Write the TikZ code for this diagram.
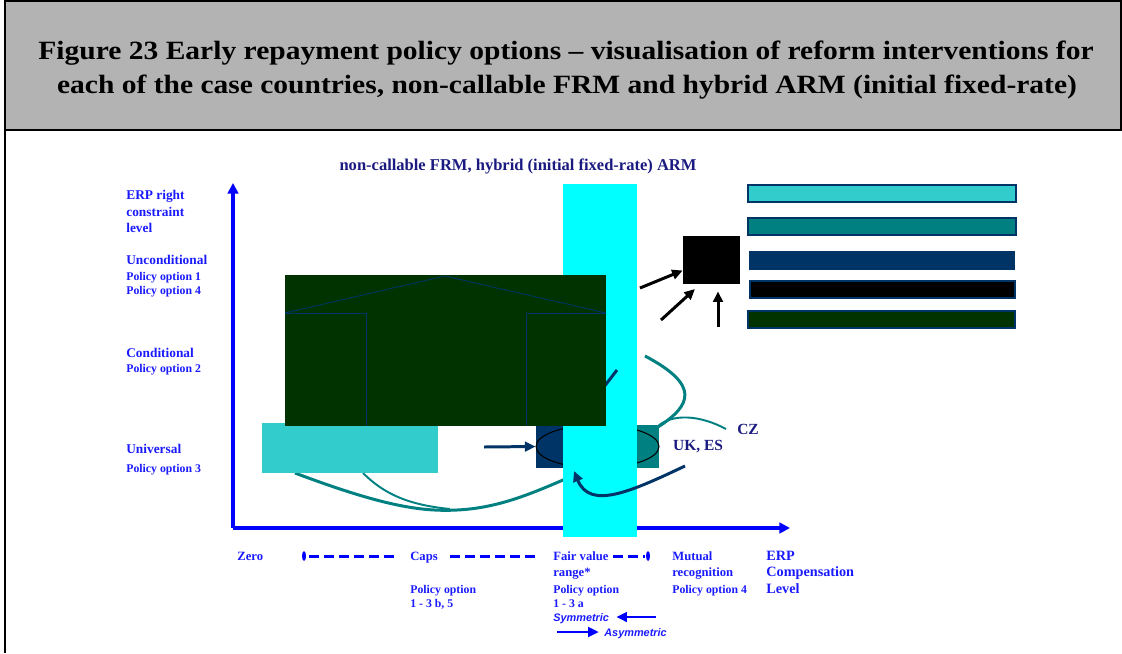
\documentclass[tikz,border=0pt]{standalone}
\usepackage{fontspec}
\setmainfont{Liberation Serif}
\newfontfamily\arialfont{Liberation Sans}
\usepackage{tikz}
\usetikzlibrary{arrows.meta,shapes.geometric}

\definecolor{titlegrey}{HTML}{B3B3B3}
\definecolor{axisblue}{HTML}{0000FF}
\definecolor{labelblue}{HTML}{1A1AFF}
\definecolor{navytext}{HTML}{1A1A80}
\definecolor{bandcyan}{HTML}{00FFFF}
\definecolor{lightteal}{HTML}{33CCCC}
\definecolor{tealline}{HTML}{008080}
\definecolor{navyfill}{HTML}{003366}
\definecolor{forestfill}{HTML}{003300}

\begin{document}
\begin{tikzpicture}[x=0.02cm,y=-0.02cm,
  lbl/.style={anchor=base west,inner sep=0pt,text=labelblue,font=\bfseries\fontsize{7.6}{9}\selectfont},
  sublbl/.style={lbl,font=\bfseries\fontsize{6.7}{8}\selectfont},
  botlbl/.style={lbl,font=\bfseries\fontsize{7.2}{8}\selectfont},
  slant/.style={lbl,font=\arialfont\bfseries\itshape\fontsize{6.2}{7}\selectfont},
  country/.style={inner sep=0pt,text=navytext,font=\bfseries\fontsize{8.8}{10}\selectfont},
  heading/.style={anchor=base,font=\bfseries\fontsize{15}{18}\selectfont},
  axis/.style={draw=axisblue,line width=2.3pt,-{Triangle[length=6pt,width=6pt]}},
  ptr/.style={line width=1.7pt,-{Triangle[length=6pt,width=5.5pt]}},
  dashline/.style={axisblue,line width=1.7pt,dash pattern=on 5.7pt off 2.8pt},
  legendbar/.style={draw=navyfill,line width=0.6pt}]

\useasboundingbox (0,0) rectangle (1122,653);

% heading
\draw[fill=titlegrey,line width=1.7pt] (5,1) rectangle (1121,130);
\draw[line width=1.7pt] (5,130) -- (5,653);
\node[heading] (title1) at (566,59)
  {\scalebox{1.12}[1]{Figure 23 Early repayment policy options -- visualisation of reform interventions for}};
\node[heading] (title2) at (567,93)
  {\scalebox{1.12}[1]{each of the case countries, non-callable FRM and hybrid ARM (initial fixed-rate)}};

\node[anchor=base,inner sep=0pt,text=navytext,font=\bfseries\fontsize{9.4}{11}\selectfont] (charttitle) at (518,170)
  {non-callable FRM, hybrid (initial fixed-rate) ARM};

% axes
\coordinate (origin) at (233,528);
\coordinate (ytip) at (233,183);
\coordinate (xtip) at (790,528);
\draw[axis] (origin) -- (ytip);
\draw[axis] (origin) -- (xtip);

% teal curves, left
\draw[tealline,line width=1.7pt] (295,473) .. controls (380,505) and (420,512) .. (457,510)
  .. controls (500,508) and (535,492) .. (570,477);
\draw[tealline,line width=1.1pt] (363,473) .. controls (385,495) and (410,505) .. (450,509);

\node[fill=lightteal,inner sep=0pt,minimum width=3.52cm,minimum height=1cm] (universal) at (350,448) {};

% ellipse
\fill[navyfill] (536,425) rectangle (598,468);
\fill[tealline] (598,425) rectangle (659,468);
\node[ellipse,draw=black,line width=0.6pt,inner sep=0pt,minimum width=2.46cm,minimum height=0.86cm] (oval) at (597.5,446.5) {};
\coordinate (navystart) at (484,447);
\draw[navyfill,ptr] (navystart) -- (oval.west);

% teal curves, right
\draw[tealline,line width=1.7pt] (645,356) .. controls (700,385) and (692,405) .. (658,427);
\draw[tealline,line width=1.1pt] (657,427) .. controls (672,413) and (700,415) .. (726,429);

% fair value band
\fill[bandcyan] (563,184) rectangle (637,537);
\draw[navyfill,line width=1.7pt] (617,370) -- (600,392);

% conditional block
\node[fill=forestfill,inner sep=0pt,minimum width=6.42cm,minimum height=3.02cm] (conditional) at (445.5,350.5) {};
\draw[navyfill,line width=0.5pt] (285,313) -- (445,276) -- (606,313);
\draw[navyfill,line width=0.5pt] (285,313) -- (366,313) -- (366,426);
\draw[navyfill,line width=0.5pt] (606,313) -- (526,313) -- (526,426);

\coordinate (ukes) at (685,466);
\draw[navyfill,ptr] (ukes) .. controls (630,492) and (590,510) .. (574,471);

\node[country] (cz) at (748,429) {CZ};
\node[country] (uk) at (698,447) {UK, ES};

% key
\node[fill=black,inner sep=0pt,minimum width=1.14cm,minimum height=0.96cm] (key) at (711.5,260) {};
\coordinate (k1) at (640,288);
\coordinate (k2) at (661,320);
\coordinate (k3) at (718,327);
\draw[ptr] (k1) -- (key.200);
\draw[ptr,shorten >=4pt] (k2) -- (key.245);
\draw[ptr,shorten >=4pt] (k3) -- (k3 |- key.south);

\draw[legendbar,fill=lightteal] (748,185) rectangle (1016,202);
\draw[legendbar,fill=tealline] (748,218) rectangle (1016,235);
\draw[legendbar,fill=navyfill] (750,252) rectangle (1014,269);
\draw[legendbar,fill=black] (750,281) rectangle (1015,298);
\draw[legendbar,fill=forestfill] (748,311) rectangle (1015,328);

% vertical axis labels
\node[lbl] (erp1) at (126,199) {ERP right};
\node[lbl] (erp2) at (126,216) {constraint};
\node[lbl] (erp3) at (126,232) {level};
\node[lbl] (uncond) at (126,264) {Unconditional};
\node[sublbl] (opt1) at (126,280) {Policy option 1};
\node[sublbl] (opt4) at (126,294) {Policy option 4};
\node[lbl] (cond) at (126,357) {Conditional};
\node[sublbl] (opt2) at (126,372) {Policy option 2};
\node[lbl] (univ) at (126,453) {Universal};
\node[sublbl] (opt3) at (126,472) {Policy option 3};

% horizontal axis labels
\node[botlbl] (zero) at (237,560) {Zero};
\node[botlbl] (caps) at (410,560) {Caps};
\node[botlbl] (fair) at (553,560) {Fair value};
\node[botlbl] (range) at (553,576) {range*};
\node[sublbl] (capsopt) at (410,593) {Policy option};
\node[sublbl] (capsnum) at (410,607) {1 - 3 b, 5};
\node[sublbl] (fairopt) at (553,593) {Policy option};
\node[sublbl] (fairnum) at (553,607) {1 - 3 a};
\node[botlbl] (mutual) at (672,560) {Mutual};
\node[botlbl] (recog) at (672,576) {recognition};
\node[sublbl] (mutopt) at (672,593) {Policy option 4};
\node[lbl,font=\bfseries\fontsize{8.1}{9}\selectfont] (erpx1) at (766,560) {ERP};
\node[lbl,font=\bfseries\fontsize{8.1}{9}\selectfont] (erpx2) at (766,576) {Compensation};
\node[lbl,font=\bfseries\fontsize{8.1}{9}\selectfont] (erpx3) at (766,593) {Level};

% compensation range
\fill[axisblue] (304,556) ellipse [x radius=2,y radius=5];
\fill[axisblue] (648,556) ellipse [x radius=2,y radius=5];
\draw[dashline] (309,556) -- (398,556);
\draw[dashline] (450,556) -- (536,556);
\draw[dashline] (613,556) -- (645,556);

\node[slant] (sym) at (553,621) {Symmetric};
\node[slant] (asym) at (604,636) {Asymmetric};
\coordinate (symstart) at (656,617);
\coordinate (asymstart) at (557,632);
\draw[axisblue,ptr,line width=1.6pt,shorten >=4pt] (symstart) -- (sym.east |- symstart);
\draw[axisblue,ptr,line width=1.6pt,shorten >=3pt] (asymstart) -- (asym.west |- asymstart);
\end{tikzpicture}
\end{document}
